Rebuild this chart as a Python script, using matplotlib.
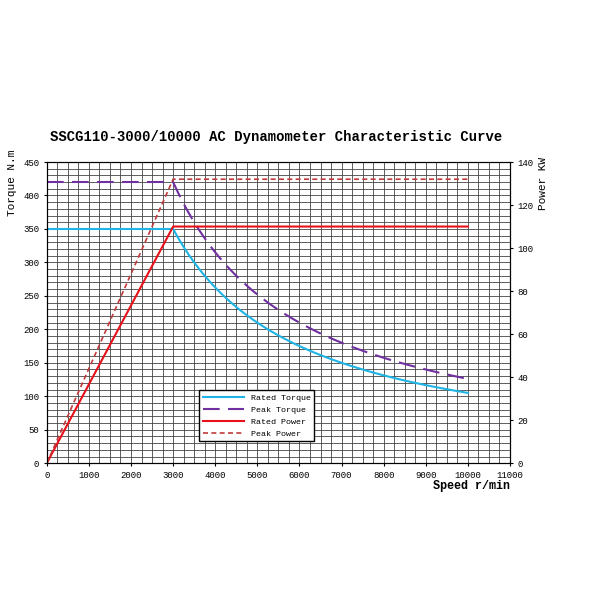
import matplotlib
matplotlib.use("Agg")
import matplotlib.pyplot as plt
import numpy as np

plt.rcParams['font.family'] = ['Liberation Mono', 'DejaVu Sans Mono']

# data
base_speed = 3000
max_speed = 10000
rated_torque = 350
peak_torque = 420
rated_power = 110
peak_power = 132

speed_curve = np.linspace(base_speed, max_speed, 60)
rated_t = rated_torque * base_speed / speed_curve
peak_t = peak_torque * base_speed / speed_curve

fig = plt.figure(figsize=(6, 6), dpi=100)
ax = fig.add_axes([0.078, 0.228, 0.772, 0.502])
ax2 = ax.twinx()

ax.set_xlim(0, 11000)
ax.set_ylim(0, 450)
ax2.set_ylim(0, 140)
ax.set_xticks(np.arange(0, 11001, 1000))
ax.set_yticks(np.arange(0, 451, 50))
ax2.set_yticks(np.arange(0, 141, 20))
ax.set_xticks(np.arange(0, 11001, 250), minor=True)
ax.set_yticks(np.arange(0, 451, 10), minor=True)
ax.grid(which='both', color='#444444', lw=0.6)
ax.tick_params(which='minor', length=0)
ax.tick_params(labelsize=6.5, length=2)
ax2.tick_params(labelsize=6.5, length=2)
ax.set_axisbelow(True)

l1, = ax.plot([0, base_speed], [rated_torque, rated_torque], color='#1fb4e6', lw=1.5)
ax.plot(speed_curve, rated_t, color='#1fb4e6', lw=1.5)
l2, = ax.plot([0, base_speed], [peak_torque, peak_torque], color='#7030a0', lw=1.5, dashes=(8, 4))
ax.plot(speed_curve, peak_t, color='#7030a0', lw=1.5, dashes=(8, 4))
l3, = ax2.plot([0, base_speed, max_speed], [0, rated_power, rated_power], color='#e8101a', lw=1.5)
l4, = ax2.plot([0, base_speed, max_speed], [0, peak_power, peak_power], color='#c0393b', lw=1.2, dashes=(3, 2))

ax.legend([l1, l2, l3, l4], ['Rated Torque', 'Peak Torque', 'Rated Power', 'Peak Power'],
          loc='lower left', bbox_to_anchor=(0.32, 0.06), fontsize=6, fancybox=False,
          edgecolor='black', framealpha=1, borderpad=0.4, handlelength=5)

ax.set_ylabel('Torque N.m', fontsize=8)
ax.yaxis.set_label_coords(-0.065, 0.93)
ax2.set_ylabel('Power KW', fontsize=8)
ax2.yaxis.set_label_coords(1.06, 0.93)
ax.text(1.0, -0.055, 'Speed r/min', transform=ax.transAxes, ha='right', va='top', fontsize=8.5, fontweight='bold')
fig.text(0.46, 0.765, 'SSCG110-3000/10000 AC Dynamometer Characteristic Curve',
         ha='center', fontsize=10, fontweight='bold')

fig.savefig('out.png')
